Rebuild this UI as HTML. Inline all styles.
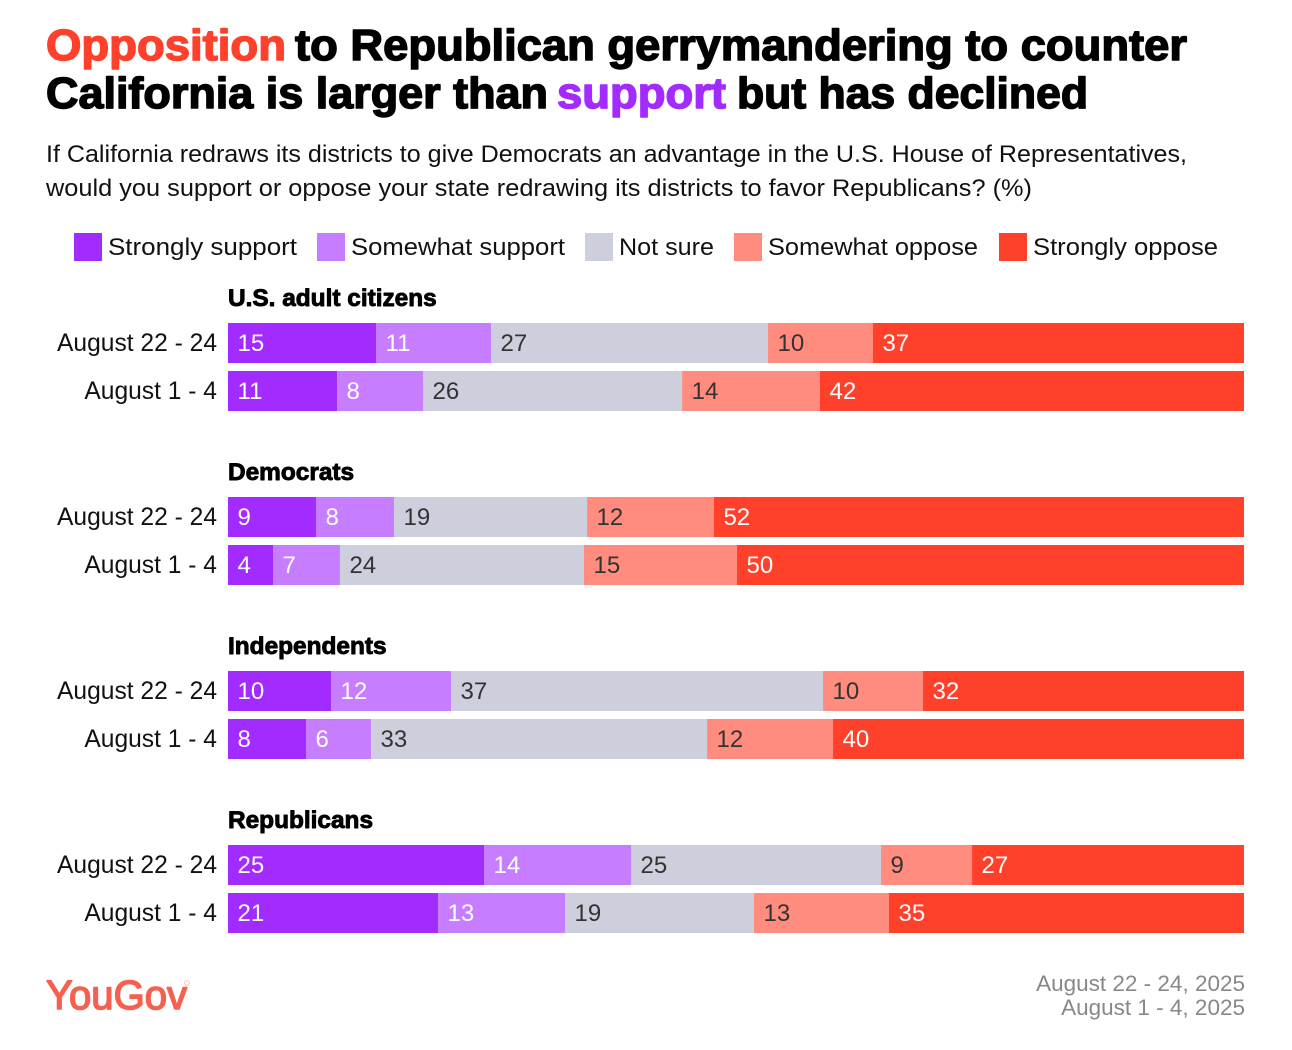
<!DOCTYPE html>
<html lang="en">
<head>
<meta charset="utf-8">
<title>Opposition to Republican gerrymandering</title>
<style>
html,body{margin:0;padding:0;background:#fff;width:1292px;height:1050px;overflow:hidden}
svg{display:block;font-family:"Liberation Sans",sans-serif}
.title{font-size:44px;font-weight:700;stroke-width:1.5px;stroke-linejoin:round}
.sub{font-size:24px;fill:#111}
.leg{font-size:24px;fill:#111}
.group{font-size:24.4px;font-weight:700;fill:#000;stroke:#000;stroke-width:.9px;stroke-linejoin:round}
.row{font-size:24.6px;fill:#111}
.val{font-size:24px}
.foot{font-size:22.5px;fill:#888}
</style>
</head>
<body>
<svg id="chart" xmlns="http://www.w3.org/2000/svg" width="1292" height="1050" viewBox="0 0 1292 1050">
  <g>
    <text class="title" x="46" y="60" textLength="240" lengthAdjust="spacingAndGlyphs" fill="#ff412c" stroke="#ff412c">Opposition</text>
    <text class="title" x="295" y="60" textLength="892" lengthAdjust="spacingAndGlyphs" fill="#000" stroke="#000">to Republican gerrymandering to counter</text>
    <text class="title" x="46" y="108" textLength="502" lengthAdjust="spacingAndGlyphs" fill="#000" stroke="#000">California is larger than</text>
    <text class="title" x="557" y="108" textLength="169" lengthAdjust="spacingAndGlyphs" fill="#a22bff" stroke="#a22bff">support</text>
    <text class="title" x="737" y="108" textLength="351" lengthAdjust="spacingAndGlyphs" fill="#000" stroke="#000">but has declined</text>
  </g>
  <g>
    <text class="sub" x="46" y="162" textLength="1141" lengthAdjust="spacingAndGlyphs">If California redraws its districts to give Democrats an advantage in the U.S. House of Representatives,</text>
    <text class="sub" x="46" y="196" textLength="986" lengthAdjust="spacingAndGlyphs">would you support or oppose your state redrawing its districts to favor Republicans? (%)</text>
  </g>
  <g>
    <g>
      <rect x="74" y="233" width="28" height="28" fill="#a22bff"/>
      <text class="leg" x="108" y="255" textLength="189" lengthAdjust="spacingAndGlyphs">Strongly support</text>
    </g>
    <g>
      <rect x="317" y="233" width="28" height="28" fill="#c77dff"/>
      <text class="leg" x="351" y="255" textLength="214" lengthAdjust="spacingAndGlyphs">Somewhat support</text>
    </g>
    <g>
      <rect x="585" y="233" width="28" height="28" fill="#cdd0dc"/>
      <text class="leg" x="619" y="255" textLength="95" lengthAdjust="spacingAndGlyphs">Not sure</text>
    </g>
    <g>
      <rect x="734" y="233" width="28" height="28" fill="#ff8c7e"/>
      <text class="leg" x="768" y="255" textLength="210" lengthAdjust="spacingAndGlyphs">Somewhat oppose</text>
    </g>
    <g>
      <rect x="999" y="233" width="28" height="28" fill="#ff412c"/>
      <text class="leg" x="1033" y="255" textLength="185" lengthAdjust="spacingAndGlyphs">Strongly oppose</text>
    </g>
  </g>
  <g id="plot"></g>
  <g>
    <text x="46" y="1009" font-size="41" textLength="141" lengthAdjust="spacingAndGlyphs" fill="#f7604e" stroke="#f7604e" stroke-width="1.5" stroke-linejoin="round">YouGov</text>
    <circle cx="187" cy="983" r="2.4" fill="none" stroke="#f9a79c" stroke-width=".7"/>
  </g>
  <g>
    <text class="foot" x="1245" y="991" text-anchor="end">August 22 - 24, 2025</text>
    <text class="foot" x="1245" y="1015" text-anchor="end">August 1 - 4, 2025</text>
  </g>
</svg>
<script>
const groupNames = ["U.S. adult citizens", "Democrats", "Independents", "Republicans"];
const periodLabels = ["August 22 - 24", "August 1 - 4"];
const seriesNames = ["strongly-support", "somewhat-support", "not-sure", "somewhat-oppose", "strongly-oppose"];
const seriesColors = ["#a22bff", "#c77dff", "#cdd0dc", "#ff8c7e", "#ff412c"];
const labelColors = ["#fff", "#fff", "#333", "#333", "#fff"];
const adultsAug22 = [14.57, 11.32, 27.26, 10.33, 36.52];
const adultsAug1 = [10.73, 8.46, 25.5, 13.57, 41.73];
const democratsAug22 = [8.66, 7.68, 19.0, 12.49, 52.17];
const democratsAug1 = [4.43, 6.59, 24.02, 15.06, 49.9];
const independentsAug22 = [10.14, 11.81, 36.61, 9.84, 31.59];
const independentsAug1 = [7.68, 6.4, 33.07, 12.4, 40.45];
const republicansAug22 = [25.2, 14.47, 24.61, 8.96, 26.77];
const republicansAug1 = [20.67, 12.5, 18.6, 13.29, 34.94];
const groupRows = [
  [adultsAug22, adultsAug1],
  [democratsAug22, democratsAug1],
  [independentsAug22, independentsAug1],
  [republicansAug22, republicansAug1]
];

const SVG_NS = "http://www.w3.org/2000/svg";
const plot = document.getElementById("plot");
const PLOT_LEFT = 228, PLOT_RIGHT = 1244;
const BAR_HEIGHT = 40, ROW_STEP = 48, GROUP_STEP = 174, FIRST_BAR_TOP = 323;

function xScale(share, total) {
  return PLOT_LEFT + (share / total) * (PLOT_RIGHT - PLOT_LEFT);
}
function rowTop(groupIndex, rowIndex) {
  return FIRST_BAR_TOP + groupIndex * GROUP_STEP + rowIndex * ROW_STEP;
}
function make(tag, parent) {
  const el = document.createElementNS(SVG_NS, tag);
  parent.appendChild(el);
  return el;
}
function slug(text) {
  return text.toLowerCase().replace(/[^a-z0-9]+/g, "-").replace(/^-|-$/g, "");
}

groupNames.forEach(function (groupName, g) {
  const groupEl = make("g", plot);
  
  

  const heading = make("text", groupEl);
  
  
  heading.setAttribute("class", "group");
  heading.setAttribute("x", PLOT_LEFT);
  heading.setAttribute("y", rowTop(g, 0) - 17);
  heading.textContent = groupName;

  groupRows[g].forEach(function (values, r) {
    const top = rowTop(g, r);
    const rowEl = make("g", groupEl);
    
    

    const rowLabel = make("text", rowEl);
    
    
    rowLabel.setAttribute("class", "row");
    rowLabel.setAttribute("x", PLOT_LEFT - 11);
    rowLabel.setAttribute("y", top + 28);
    rowLabel.setAttribute("text-anchor", "end");
    rowLabel.textContent = periodLabels[r];

    const total = values.reduce(function (a, b) { return a + b; }, 0);
    let cumulative = 0;
    values.forEach(function (value, s) {
      const x0 = xScale(cumulative, total);
      cumulative += value;
      const x1 = xScale(cumulative, total);

      const bar = make("rect", rowEl);
      
      
      bar.setAttribute("x", x0);
      bar.setAttribute("y", top);
      bar.setAttribute("width", x1 - x0);
      bar.setAttribute("height", BAR_HEIGHT);
      bar.setAttribute("fill", seriesColors[s]);

      const label = make("text", rowEl);
      
      
      label.setAttribute("class", "val");
      label.setAttribute("x", x0 + 9.5);
      label.setAttribute("y", top + 28);
      label.setAttribute("fill", labelColors[s]);
      label.textContent = Math.round(value);
    });
  });
});
</script>
</body>
</html>
